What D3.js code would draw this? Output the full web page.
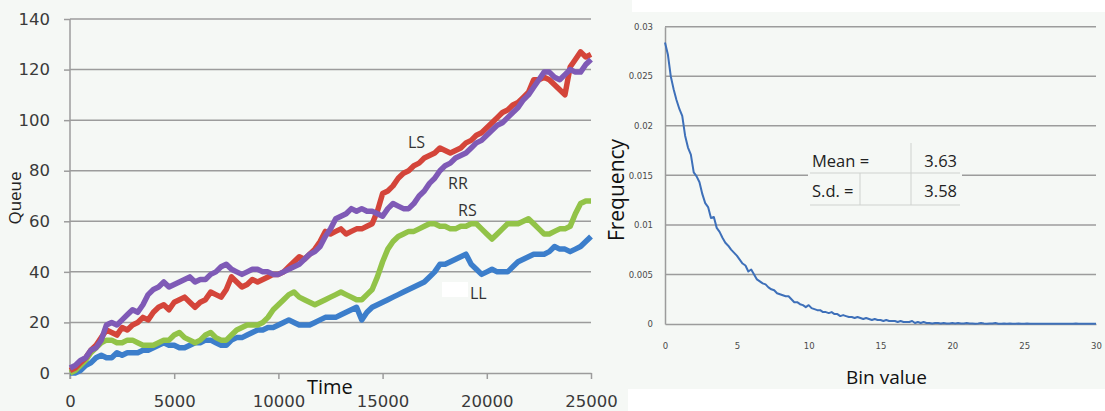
<!DOCTYPE html>
<html>
<head>
<meta charset="utf-8">
<script src="https://cdn.jsdelivr.net/npm/d3@7"></script>
<style>
  body { margin: 0; background: #f5f8f5; }
  svg { display: block; }
</style>
</head>
<body>
<svg id="chart" width="1105" height="411"></svg>
<script>
// queue length over time, one value every 250 time units
const timeStep = 250;
const seriesNames = ['LL', 'RS', 'LS', 'RR'];
const seriesColors = ['#3c7ecb', '#92c348', '#d4453a', '#7f5ab6'];
const queueLL = [0, 0, 1, 3, 4, 6, 7, 6, 6, 8, 7, 8, 8, 8, 9, 9, 10, 11, 12, 11,
  11, 10, 10, 11, 12, 12, 13, 13, 12, 11, 11, 13, 14, 14, 15, 16, 17, 17, 18, 18,
  19, 20, 21, 20, 19, 19, 19, 20, 21, 22, 22, 22, 23, 24, 25, 26, 21, 24, 26, 27,
  28, 29, 30, 31, 32, 33, 34, 35, 36, 38, 40, 43, 43, 44, 45, 46, 47, 43, 41, 39,
  40, 41, 40, 40, 40, 42, 44, 45, 46, 47, 47, 47, 48, 50, 49, 49, 48, 49, 50, 52, 54];
const queueRS = [0, 1, 3, 5, 8, 10, 12, 13, 13, 12, 12, 13, 13, 12, 11, 11, 11, 12, 13, 13,
  15, 16, 14, 13, 12, 13, 15, 16, 14, 13, 13, 15, 17, 18, 19, 19, 19, 20, 22, 25,
  27, 29, 31, 32, 30, 29, 28, 27, 28, 29, 30, 31, 32, 31, 30, 29, 29, 31, 33, 38,
  44, 49, 52, 54, 55, 56, 56, 57, 58, 59, 59, 58, 58, 57, 57, 58, 58, 59, 59, 57,
  55, 53, 55, 57, 59, 59, 59, 60, 61, 59, 57, 55, 55, 56, 57, 57, 58, 63, 67, 68, 68];
const queueLS = [1, 2, 4, 6, 9, 11, 14, 17, 16, 15, 18, 17, 19, 20, 22, 21, 24, 26, 27, 25,
  28, 29, 30, 28, 26, 28, 29, 32, 31, 30, 33, 38, 36, 34, 35, 37, 36, 37, 38, 39,
  39, 40, 42, 44, 46, 45, 47, 49, 52, 56, 55, 56, 57, 55, 56, 57, 57, 58, 59, 64,
  71, 72, 74, 77, 79, 80, 82, 83, 85, 86, 87, 89, 88, 87, 88, 89, 91, 92, 94, 95,
  97, 99, 101, 103, 104, 106, 107, 109, 111, 116, 116, 117, 116, 114, 112, 110, 121, 124, 127, 125, 126];
const queueRR = [2, 3, 5, 6, 9, 10, 13, 19, 20, 19, 21, 23, 25, 24, 27, 31, 33, 34, 36, 34,
  35, 36, 37, 38, 36, 37, 37, 39, 40, 42, 43, 41, 40, 39, 40, 41, 41, 40, 40, 39,
  39, 40, 41, 42, 43, 45, 47, 48, 50, 54, 57, 61, 62, 63, 65, 64, 65, 64, 64, 63,
  62, 65, 67, 66, 65, 65, 67, 70, 72, 75, 77, 80, 82, 83, 85, 86, 87, 89, 91, 92,
  94, 96, 98, 99, 101, 103, 105, 108, 110, 113, 116, 119, 119, 117, 116, 118, 120, 119, 119, 122, 124];
const seriesValues = [queueLL, queueRS, queueLS, queueRR];
const timeTicks = [0, 5000, 10000, 15000, 20000, 25000];
const queueTicks = [0, 20, 40, 60, 80, 100, 120, 140];

// bin value histogram, bin width 0.2 from 0 to 30
const binStep = 0.2;
const binFreq = [0.0284, 0.0272, 0.0250, 0.0237, 0.0226, 0.0217, 0.0210, 0.0190, 0.0178, 0.0171,
  0.0153, 0.0149, 0.0143, 0.0131, 0.0122, 0.0118, 0.0107, 0.0108, 0.0097, 0.0093,
  0.0087, 0.0082, 0.0079, 0.0075, 0.0072, 0.0069, 0.0065, 0.0061, 0.0059, 0.0053,
  0.0055, 0.0050, 0.0045, 0.0043, 0.0041, 0.0040, 0.0037, 0.0035, 0.0034, 0.0031,
  0.0030, 0.0029, 0.0028, 0.0028, 0.0025, 0.0022, 0.0022, 0.0020, 0.0019, 0.0017,
  0.0019, 0.0016, 0.0015, 0.0014, 0.0014, 0.0012, 0.0012, 0.0011, 0.0012, 0.0010,
  0.0010, 0.0008, 0.0009, 0.0008, 0.0007, 0.0007, 0.0006, 0.0007, 0.0006, 0.0005,
  0.0006, 0.0005, 0.0004, 0.0005, 0.0004, 0.0004, 0.0003, 0.0004, 0.0003, 0.0003,
  0.0003, 0.0002, 0.0003, 0.0002, 0.0002, 0.0002, 0.0003, 0.0001, 0.0002, 0.0001,
  0.0002, 0.0001, 0.0001, 0.00005, 0.0001, 0.0001, 0.00005, 0.0001, 0.00005, 0.00005,
  0.0001, 0.00005, 0.0001, 0.00005, 0.00005, 0.0001, 0.00005, 0.00005, 0.00003, 0.00005,
  0.0001, 0.00005, 0.00003, 0.00005, 0.00005, 0.0001, 0.00003, 0.00003, 0.00005, 0.00003,
  0.00005, 0.00003, 0.00003, 0.00005, 0.00002, 0.00003, 0.00005, 0.00002, 0.00003, 0.00002,
  0.00003, 0.00002, 0.00003, 0.00002, 0.00002, 0.00003, 0.00002, 0.00002, 0.00002, 0.00003,
  0.00002, 0.00002, 0.00002, 0.00005, 0.00002, 0.00002, 0.00002, 0.00002, 0.00002, 0.00002, 0.00002];
const binTicks = [0, 5, 10, 15, 20, 25, 30];
const freqTicks = [0, 0.005, 0.01, 0.015, 0.02, 0.025, 0.03];
const statLabels = ['Mean =', 'S.d. ='];
const statValues = ['3.63', '3.58'];

const svg = d3.select('#chart');
const gridGrey = '#9c9c9c';
const textDark = '#3a3a3a';

// white strips round the right picture
svg.append('rect').attr('x', 632).attr('y', 0).attr('width', 473).attr('height', 12).attr('fill', '#fff');
svg.append('rect').attr('x', 628).attr('y', 389).attr('width', 477).attr('height', 22).attr('fill', '#fff');

// ---------- left chart: queue vs time
const xL = d3.scaleLinear().domain([0, 25000]).range([70, 591]);
const yL = d3.scaleLinear().domain([0, 140]).range([373, 19]);

const left = svg.append('g');
left.selectAll('line.grid')
  .data(queueTicks.slice(1))
  .enter()
  .append('line')
  .attr('class', 'grid')
  .attr('x1', xL(0)).attr('x2', xL(25000))
  .attr('y1', (d) => yL(d)).attr('y2', (d) => yL(d))
  .style('stroke', gridGrey)
  .style('stroke-width', 1.5);

const yAxisL = left.append('g')
  .attr('transform', `translate(${xL(0)},0)`)
  .call(d3.axisLeft(yL).tickValues(queueTicks).tickSize(6).tickPadding(14).tickSizeOuter(0));
const xAxisL = left.append('g')
  .attr('transform', `translate(0,${yL(0)})`)
  .call(d3.axisBottom(xL).tickValues(timeTicks).tickSize(6).tickPadding(16).tickSizeOuter(0).tickFormat(d3.format('d')));
[yAxisL, xAxisL].forEach((ax) => {
  ax.select('.domain').style('stroke', gridGrey).style('stroke-width', 1.5);
  ax.selectAll('.tick line').style('stroke', gridGrey).style('stroke-width', 1.5);
  ax.selectAll('text')
    .style('font-family', 'DejaVu Sans')
    .style('font-size', '16.5px')
    .style('fill', textDark);
});
yAxisL.select('.domain').attr('d', `M0,${yL(140)}V${yL(0) + 6}`);

const lineL = d3.line()
  .x((d, i) => xL(i * timeStep))
  .y((d) => yL(d));
left.selectAll('path.series')
  .data(seriesValues)
  .enter()
  .append('path')
  .attr('class', 'series')
  .attr('d', lineL)
  .style('fill', 'none')
  .style('stroke', (d, i) => seriesColors[i])
  .style('stroke-width', 5.5)
  .style('stroke-linejoin', 'round');

// white patch next to LL, as in the source picture
left.append('rect').attr('x', 442).attr('y', 282).attr('width', 26).attr('height', 15).attr('fill', '#fff');

const seriesLabelPos = { LS: [408, 148], RR: [448, 189], RS: [458, 216], LL: [470, 299] };
seriesNames.forEach((name) => {
  left.append('text')
    .attr('x', seriesLabelPos[name][0])
    .attr('y', seriesLabelPos[name][1])
    .text(name)
    .style('font-family', 'Open Sans')
    .style('font-size', '16px')
    .style('fill', '#333');
});

left.append('text')
  .attr('transform', 'translate(21,198) rotate(-90)')
  .attr('text-anchor', 'middle')
  .text('Queue')
  .style('font-family', 'Open Sans')
  .style('font-size', '17px')
  .style('fill', '#222');
left.append('text')
  .attr('x', 307)
  .attr('y', 394)
  .text('Time')
  .style('font-family', 'Open Sans')
  .style('font-size', '20px')
  .style('fill', '#111');

// ---------- right chart: frequency vs bin value
const xR = d3.scaleLinear().domain([0, 30]).range([665, 1096]);
const yR = d3.scaleLinear().domain([0, 0.03]).range([324, 26.7]);

const right = svg.append('g');
right.selectAll('line.grid')
  .data(freqTicks.slice(1))
  .enter()
  .append('line')
  .attr('class', 'grid')
  .attr('x1', xR(0)).attr('x2', xR(30))
  .attr('y1', (d) => yR(d)).attr('y2', (d) => yR(d))
  .style('stroke', gridGrey)
  .style('stroke-width', 1.5);

const yAxisR = right.append('g')
  .attr('transform', `translate(${xR(0)},0)`)
  .call(d3.axisLeft(yR).tickValues(freqTicks).tickSize(0).tickPadding(12).tickFormat((d) => String(+d.toFixed(3))));
const xAxisR = right.append('g')
  .attr('transform', `translate(0,${yR(0)})`)
  .call(d3.axisBottom(xR).tickValues(binTicks).tickSize(0).tickPadding(19));
[yAxisR, xAxisR].forEach((ax) => {
  ax.select('.domain').style('stroke', gridGrey).style('stroke-width', 1.5);
  ax.selectAll('text')
    .style('font-family', 'DejaVu Sans')
    .style('font-size', '8.5px')
    .style('fill', '#4a4a4a');
});

const lineR = d3.line()
  .x((d, i) => xR(i * binStep))
  .y((d) => yR(d));
right.append('path')
  .datum(binFreq)
  .attr('d', lineR)
  .style('fill', 'none')
  .style('stroke', '#3e70b9')
  .style('stroke-width', 2)
  .style('stroke-linejoin', 'round');

right.append('text')
  .attr('transform', 'translate(624,190) rotate(-90)')
  .attr('text-anchor', 'middle')
  .text('Frequency')
  .style('font-family', 'Open Sans')
  .style('font-size', '21px')
  .style('fill', '#111');
right.append('text')
  .attr('x', 846)
  .attr('y', 384)
  .text('Bin value')
  .style('font-family', 'Open Sans')
  .style('font-size', '19px')
  .style('fill', '#111');

// stats table over the plot
const table = right.append('g');
table.append('rect').attr('x', 808).attr('y', 145).attr('width', 154).attr('height', 61).attr('fill', '#f5f8f5');
const cellLine = '#cfd2cf';
table.append('line').attr('x1', 810).attr('x2', 960).attr('y1', 173).attr('y2', 173).style('stroke', cellLine);
table.append('line').attr('x1', 810).attr('x2', 960).attr('y1', 205).attr('y2', 205).style('stroke', cellLine);
table.append('line').attr('x1', 911).attr('x2', 911).attr('y1', 143).attr('y2', 205).style('stroke', cellLine);
table.append('line').attr('x1', 860).attr('x2', 860).attr('y1', 173).attr('y2', 205).style('stroke', cellLine);
statLabels.forEach((lab, i) => {
  table.append('text')
    .attr('x', 812)
    .attr('y', 167 + i * 30)
    .text(lab)
    .style('font-family', 'Open Sans')
    .style('font-size', '16.5px')
    .style('fill', '#222');
  table.append('text')
    .attr('x', 957)
    .attr('y', 167 + i * 30)
    .attr('text-anchor', 'end')
    .text(statValues[i])
    .style('font-family', 'Open Sans')
    .style('font-size', '16.5px')
    .style('fill', '#222');
});
</script>
</body>
</html>
